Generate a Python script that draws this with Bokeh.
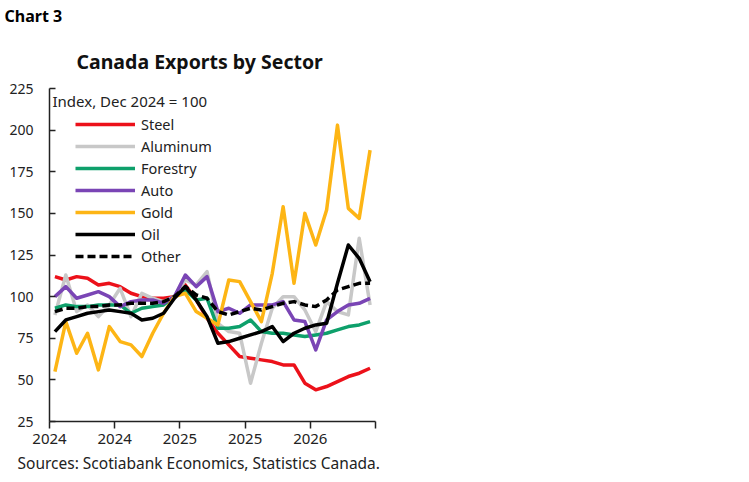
from bokeh.plotting import figure
from bokeh.models import Range1d, FixedTicker, Label, Title
from bokeh.embed import file_html
from bokeh.resources import INLINE

# ---- data (monthly, index Dec 2024 = 100) ----
months = list(range(30))
tick_positions = [-0.5, 5.5, 11.5, 17.5, 23.5, 29.5]
tick_labels = ["2024", "2024", "2025", "2025", "2026", ""]
y_ticks = [25, 50, 75, 100, 125, 150, 175, 200, 225]

steel = [112, 110, 112, 111, 107, 108, 106, 102, 100, 99, 99, 100, 107, 98, 87,
         78, 71, 64, 63, 62, 61, 59, 59, 48, 44, 46, 49, 52, 54, 57]
aluminum = [89, 113, 91, 95, 88, 95, 105, 88, 102, 99, 97, 100, 110, 107, 115,
            84, 79, 78, 48, 72, 93, 100, 100, 92, 79, 97, 91, 89, 135, 95]
forestry = [93, 95, 94, 94, 95, 95, 95, 90, 93, 94, 95, 100, 104, 98, 99,
            81, 81, 82, 86, 79, 78, 78, 77, 76, 77, 78, 80, 82, 83, 85]
auto = [100, 106, 99, 101, 103, 100, 94, 97, 98, 98, 96, 100, 113, 106, 112,
        91, 93, 90, 95, 95, 95, 97, 86, 85, 68, 86, 91, 95, 96, 99]
gold = [55, 85, 66, 78, 56, 82, 73, 71, 64, 78, 90, 100, 102, 91, 87,
        83, 110, 109, 97, 85, 114, 154, 108, 150, 131, 152, 203, 153, 147, 188]
oil = [79, 86, 88, 90, 91, 92, 91, 90, 86, 87, 90, 99, 106, 98, 88,
       72, 73, 75, 77, 79, 82, 73, 78, 81, 83, 84, 108, 131, 123, 109]
other = [91, 93, 93, 94, 94, 95, 95, 96, 96, 96, 97, 100, 106, 101, 99,
         91, 89, 91, 93, 92, 94, 96, 97, 95, 94, 98, 104, 106, 108, 108]

series = [
    ("Steel", steel, "#EC111A", "solid"),
    ("Aluminum", aluminum, "#C8C8C8", "solid"),
    ("Forestry", forestry, "#0EA06B", "solid"),
    ("Auto", auto, "#7A45B5", "solid"),
    ("Gold", gold, "#FDB515", "solid"),
    ("Oil", oil, "#000000", "solid"),
    ("Other", other, "#000000", "8 4"),
]

FONT = "Noto Sans"
TXT = "#222222"

W, H = 745, 480
p = figure(width=W, height=H, output_backend="svg", toolbar_location=None,
           x_range=Range1d(-0.5, 29.5), y_range=Range1d(25, 225),
           min_border_left=49, min_border_top=88, min_border_right=W - 375,
           min_border_bottom=H - 421)
p.outline_line_color = None
p.xgrid.visible = False
p.ygrid.visible = False
p.background_fill_color = "white"
p.border_fill_color = "white"

for name, vals, color, dash in series:
    p.line(months, vals, line_color=color, line_width=3.5, line_dash=dash,
           line_join="round", legend_label=name)

# axes
p.yaxis.ticker = FixedTicker(ticks=y_ticks)
p.yaxis.major_tick_in = 6
p.yaxis.major_tick_out = 0
p.yaxis.minor_tick_line_color = None
p.yaxis.major_label_standoff = 16
p.yaxis.axis_line_color = "#222222"
p.yaxis.axis_line_width = 1.5
p.yaxis.major_tick_line_color = "#222222"
p.yaxis.major_tick_line_width = 1.5
p.yaxis.major_label_text_font = FONT
p.yaxis.major_label_text_font_size = "14px"
p.yaxis.major_label_text_color = TXT

p.xaxis.ticker = FixedTicker(ticks=tick_positions)
p.xaxis.major_label_overrides = {t: l for t, l in zip(tick_positions, tick_labels)}
p.xaxis.major_tick_in = 0
p.xaxis.major_tick_out = 7
p.xaxis.minor_tick_line_color = None
p.xaxis.major_label_standoff = 5
p.xaxis.axis_line_color = "#222222"
p.xaxis.axis_line_width = 1.5
p.xaxis.major_tick_line_color = "#222222"
p.xaxis.major_tick_line_width = 1.5
p.xaxis.major_label_text_font = FONT
p.xaxis.major_label_text_font_size = "15px"
p.xaxis.major_label_text_color = TXT

# legend
lg = p.legend[0]
lg.location = "top_left"
lg.margin = 26
lg.padding = 0
lg.spacing = 2
lg.glyph_width = 60
lg.glyph_height = 20
lg.label_height = 20
lg.label_standoff = 6
lg.label_text_font = FONT
lg.label_text_font_size = "14.5px"
lg.label_text_color = TXT
lg.border_line_color = None
lg.background_fill_alpha = 0

# in-frame note
p.add_layout(Label(x=3, y=321, x_units="screen", y_units="screen",
                   text="Index, Dec 2024 = 100", text_font=FONT,
                   text_font_size="15px", text_color=TXT,
                   text_baseline="alphabetic"))

# titles outside the frame
p.add_layout(Title(text="Canada Exports by Sector", align="left", offset=27,
                   standoff=28, text_font=FONT, text_font_size="19.5px",
                   text_font_style="bold", text_color="#111111"), "above")
p.add_layout(Title(text="Chart 3", align="left", offset=-45, standoff=5,
                   vertical_align="top",
                   text_font=FONT, text_font_size="16px",
                   text_font_style="bold", text_color="#000000"), "above")
p.add_layout(Title(text="Sources: Scotiabank Economics, Statistics Canada.",
                   align="left", offset=-32, standoff=7, text_font=FONT,
                   text_font_size="15.5px", text_font_style="normal",
                   text_color=TXT), "below")

open("out.html", "w").write(file_html(p, INLINE))
